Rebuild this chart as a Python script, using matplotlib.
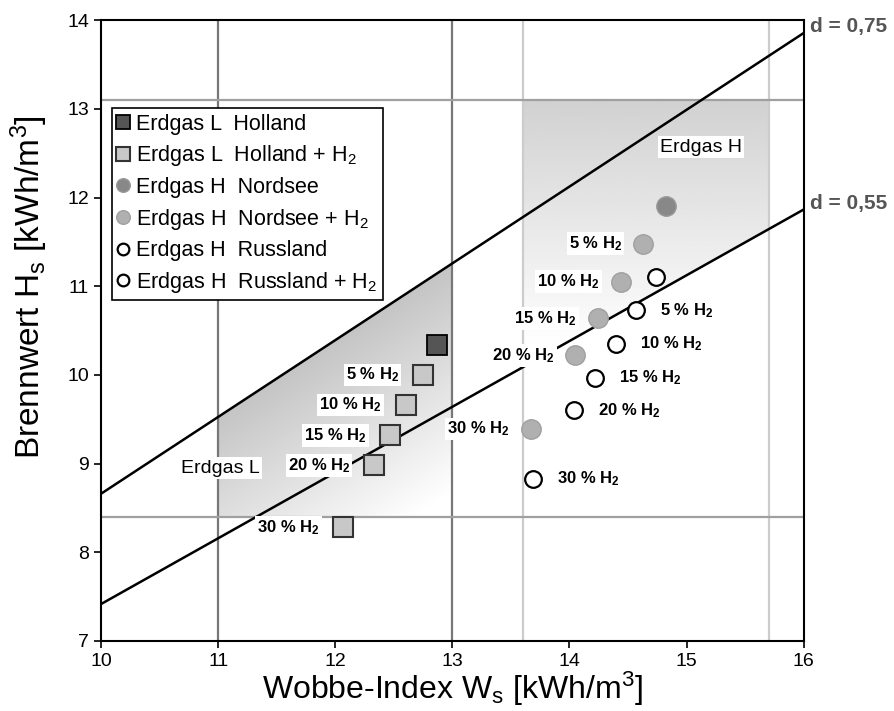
import numpy as np
import matplotlib
matplotlib.use('Agg')
from matplotlib import pyplot as plt, patches

plt.rcParams['font.family'] = ['Liberation Sans', 'DejaVu Sans']
plt.rcParams['mathtext.fontset'] = 'custom'
plt.rcParams['mathtext.rm'] = 'Liberation Sans'
plt.rcParams['mathtext.it'] = 'Liberation Sans:italic'
plt.rcParams['mathtext.bf'] = 'Liberation Sans:bold'

# daten
h2_pct = [5, 10, 15, 20, 30]

holland_w, holland_hs = 12.87, 10.34
holland_h2_w = [12.75, 12.60, 12.47, 12.33, 12.07]
holland_h2_hs = [10.00, 9.66, 9.32, 8.98, 8.28]

nordsee_w, nordsee_hs = 14.82, 11.90
nordsee_h2_w = [14.63, 14.44, 14.24, 14.05, 13.67]
nordsee_h2_hs = [11.48, 11.05, 10.64, 10.22, 9.39]

russland_w, russland_hs = 14.74, 11.11
russland_h2_w = [14.57, 14.40, 14.22, 14.04, 13.69]
russland_h2_hs = [10.73, 10.35, 9.97, 9.60, 8.83]

# grenzen
d_werte = [0.75, 0.55]
w_grenzen_L = [11.0, 13.0]
w_grenzen_H = [13.6, 15.7]
hs_grenzen = [8.4, 13.1]

fig = plt.figure(figsize=(8.94, 7.11), dpi=100)
ax = fig.add_axes([0.113, 0.0985, 0.786, 0.873])
ax.set_xlim(10, 16)
ax.set_ylim(7, 14)

# schattierung L
ww, hh = np.meshgrid(np.linspace(10, 16, 400), np.linspace(7, 14, 400))
t = np.clip((ww * np.sqrt(0.75) - hh) / 2.6, 0, 1)
img = ax.imshow(0.77 + 0.23 * t, extent=(10, 16, 7, 14), origin='lower', cmap='gray',
                vmin=0, vmax=1, aspect='auto', zorder=0)
polyL = patches.Polygon([(11, 8.4), (11, 11 * np.sqrt(0.75)), (13, 13 * np.sqrt(0.75)), (13, 8.4)],
                        closed=True, transform=ax.transData)
img.set_clip_path(polyL)

# schattierung H
t2 = np.clip((13.1 - hh) / 2.8, 0, 1)
img2 = ax.imshow(0.82 + 0.18 * t2, extent=(10, 16, 7, 14), origin='lower', cmap='gray',
                 vmin=0, vmax=1, aspect='auto', zorder=0)
polyH = patches.Polygon([(13.6, 13.6 * np.sqrt(0.55)), (13.6, 13.1), (15.7, 13.1),
                         (15.7, 15.7 * np.sqrt(0.55))], closed=True, transform=ax.transData)
img2.set_clip_path(polyH)

for x in w_grenzen_L:
    ax.axvline(x, color='#777777', lw=1.6, zorder=1)
for x in w_grenzen_H:
    ax.axvline(x, color='#cccccc', lw=1.6, zorder=1)
for y in hs_grenzen:
    ax.axhline(y, color='#a0a0a0', lw=1.6, zorder=1)

# linien konstanter dichte
w_line = np.array([10, 16])
for d in d_werte:
    ax.plot(w_line, w_line * np.sqrt(d), color='black', lw=1.8, zorder=2)
    ax.text(16.05, 16 * np.sqrt(d) + 0.07, 'd = ' + str(d).replace('.', ','), fontsize=15,
            fontweight='bold', color='#555555', ha='left', va='center', clip_on=False)

ax.plot(holland_w, holland_hs, 's', ms=14, mfc='#555555', mec='black', mew=1.3,
        label='Erdgas L  Holland', zorder=3)
ax.plot(holland_h2_w, holland_h2_hs, 's', ms=14, mfc='#c8c8c8', mec='#333333', mew=1.5,
        label='Erdgas L  Holland + H$_2$', zorder=3)
ax.plot(nordsee_w, nordsee_hs, 'o', ms=14, mfc='#888888', mec='#999999', mew=1,
        label='Erdgas H  Nordsee', zorder=3)
ax.plot(nordsee_h2_w, nordsee_h2_hs, 'o', ms=14, mfc='#b0b0b0', mec='#a0a0a0', mew=1,
        label='Erdgas H  Nordsee + H$_2$', zorder=3)
ax.plot(russland_w, russland_hs, 'o', ms=12, mfc='white', mec='black', mew=1.6,
        label='Erdgas H  Russland', zorder=3)
ax.plot(russland_h2_w, russland_h2_hs, 'o', ms=12, mfc='white', mec='black', mew=1.6,
        label='Erdgas H  Russland + H$_2$', zorder=3)

box = dict(facecolor='white', edgecolor='none', pad=1.5)
for p, x, y in zip(h2_pct, holland_h2_w, holland_h2_hs):
    ax.annotate('%d %% H$_\\mathbf{2}$' % p, (x, y), xytext=(-17, 0), textcoords='offset points',
                ha='right', va='center', fontsize=12, fontweight='bold', bbox=box, zorder=4)
for p, x, y in zip(h2_pct, nordsee_h2_w, nordsee_h2_hs):
    ax.annotate('%d %% H$_\\mathbf{2}$' % p, (x, y), xytext=(-15, 0), textcoords='offset points',
                ha='right', va='center', fontsize=12, fontweight='bold', bbox=box, zorder=4)
for p, x, y in zip(h2_pct, russland_h2_w, russland_h2_hs):
    ax.annotate('%d %% H$_\\mathbf{2}$' % p, (x, y), xytext=(17, 0), textcoords='offset points',
                ha='left', va='center', fontsize=12, fontweight='bold', bbox=box, zorder=4)

ax.text(15.12, 12.57, 'Erdgas H', fontsize=14, ha='center', va='center', bbox=box, zorder=4)
ax.text(11.02, 8.95, 'Erdgas L', fontsize=14, ha='center', va='center', bbox=box, zorder=4)

leg = ax.legend(loc='upper left', bbox_to_anchor=(0.015, 0.858), fontsize=15.5, markerscale=0.7,
                frameon=True, fancybox=False, edgecolor='black', framealpha=1,
                handlelength=0.6, handletextpad=0.3, borderpad=0.25, labelspacing=0.4,
                borderaxespad=0)
leg.get_frame().set_linewidth(1.2)
leg.set_zorder(5)

ax.set_xticks(range(10, 17))
ax.set_yticks(range(7, 15))
ax.tick_params(labelsize=14, length=5, width=1.2, direction='out')
for s in ax.spines.values():
    s.set_linewidth(1.5)

ax.set_xlabel('Wobbe-Index W$_\\mathregular{s}$ [kWh/m$^\\mathregular{3}$]', fontsize=23, labelpad=0)
ax.set_ylabel('Brennwert H$_\\mathregular{s}$ [kWh/m$^\\mathregular{3}$]', fontsize=24)
ax.yaxis.set_label_coords(-0.073, 0.57)

plt.savefig('out.png', dpi=100)
